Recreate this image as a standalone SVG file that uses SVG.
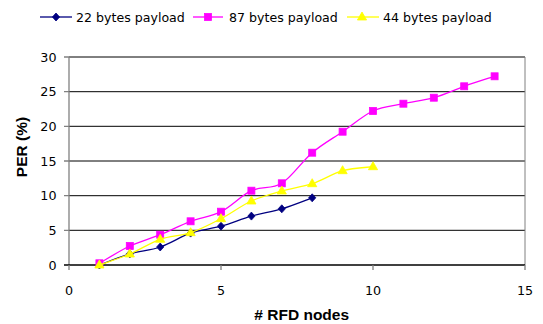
<svg xmlns="http://www.w3.org/2000/svg" width="543" height="324" viewBox="0 0 543 324">
  <style>
    .grid { stroke: #000; stroke-width: 1; }
    .axis { stroke: #808080; stroke-width: 1.3; fill: none; }
    .tick { font-family: "DejaVu Sans", Verdana, sans-serif; font-size: 12.7px; fill: #000; }
    .title { font-family: "Liberation Sans", Arial, sans-serif; font-size: 15.5px; font-weight: bold; fill: #000; }
    .legend { font-family: "DejaVu Sans", Verdana, sans-serif; font-size: 12.6px; fill: #000; }
    .s22 { stroke: #000080; stroke-width: 1.3; fill: none; }
    .s87 { stroke: #FF00FF; stroke-width: 1.3; fill: none; }
    .s44 { stroke: #FFFF00; stroke-width: 1.3; fill: none; }
  </style>
  <defs>
    <path id="diamond" d="M0,-4 L3.6,0 L0,4 L-3.6,0 Z" fill="#000080" stroke="#000080" stroke-width="0.8"/>
    <rect id="square" x="-3.5" y="-3.5" width="7" height="7" fill="#FF00FF" stroke="#FF00FF" stroke-width="0.8"/>
    <path id="triangle" d="M0,-5 L4.6,3 L-4.6,3 Z" fill="#FFFF00" stroke="#FFFF00" stroke-width="0.8"/>
  </defs>

  <rect width="543" height="324" fill="#fff"/>

  <!-- plot area: gridlines every 5 % -->
  <g id="grid">
    <line class="grid" x1="69" y1="57" x2="525" y2="57"/>
    <line class="grid" x1="69" y1="91.7" x2="525" y2="91.7"/>
    <line class="grid" x1="69" y1="126.3" x2="525" y2="126.3"/>
    <line class="grid" x1="69" y1="161" x2="525" y2="161"/>
    <line class="grid" x1="69" y1="195.7" x2="525" y2="195.7"/>
    <line class="grid" x1="69" y1="230.3" x2="525" y2="230.3"/>
    <line x1="525" y1="57" x2="525" y2="265" stroke="#808080" stroke-width="1"/>
  </g>

  <!-- axes with tick marks -->
  <g id="axes">
    <line class="axis" x1="69" y1="57" x2="69" y2="265"/>
    <line x1="64" y1="265" x2="525" y2="265" stroke="#000" stroke-width="1.3"/>
    <path class="axis" d="M64,57H69M64,91.7H69M64,126.3H69M64,161H69M64,195.7H69M64,230.3H69"/>
    <path class="axis" d="M69,265V270M221,265V270M373,265V270M525,265V270"/>
  </g>

  <g id="y-labels" class="tick" text-anchor="end">
    <text x="56.5" y="61.5">30</text>
    <text x="56.5" y="96.2">25</text>
    <text x="56.5" y="130.8">20</text>
    <text x="56.5" y="165.5">15</text>
    <text x="56.5" y="200.2">10</text>
    <text x="56.5" y="234.8">5</text>
    <text x="56.5" y="270">0</text>
  </g>
  <g id="x-labels" class="tick" text-anchor="middle">
    <text x="69" y="295">0</text>
    <text x="221" y="295">5</text>
    <text x="373" y="295">10</text>
    <text x="525" y="295">15</text>
  </g>

  <text id="x-title" class="title" x="301.7" y="320" text-anchor="middle"># RFD nodes</text>
  <text id="y-title" class="title" transform="translate(26.5,147) rotate(-90)" text-anchor="middle">PER (%)</text>

  <!-- data series (smoothed curves) -->
  <g id="series-22">
    <path class="s22" d="M99.4,265 C104.47,263.15 119.67,256.9 129.8,253.9 C139.93,250.9 150.07,250.47 160.2,247 C170.33,243.53 180.47,236.57 190.6,233.1 C200.73,229.63 210.87,229.03 221,226.2 C231.13,223.37 241.27,219 251.4,216.1 C261.53,213.2 271.67,211.85 281.8,208.8 C291.93,205.75 307.13,199.63 312.2,197.8"/>
    <use href="#diamond" x="99.4" y="265"/>
    <use href="#diamond" x="129.8" y="253.9"/>
    <use href="#diamond" x="160.2" y="247"/>
    <use href="#diamond" x="190.6" y="233.1"/>
    <use href="#diamond" x="221" y="226.2"/>
    <use href="#diamond" x="251.4" y="216.1"/>
    <use href="#diamond" x="281.8" y="208.8"/>
    <use href="#diamond" x="312.2" y="197.8"/>
  </g>
  <g id="series-87">
    <path class="s87" d="M99.4,263.3 C104.47,260.42 119.67,250.77 129.8,246 C139.93,241.23 150.07,238.82 160.2,234.7 C170.33,230.58 180.47,225.13 190.6,221.3 C200.73,217.47 210.87,216.8 221,211.7 C231.13,206.6 241.27,195.43 251.4,190.7 C261.53,185.97 271.67,189.63 281.8,183.3 C291.93,176.97 302.07,161.3 312.2,152.7 C322.33,144.1 332.47,138.65 342.6,131.7 C352.73,124.75 362.87,115.67 373,111 C383.13,106.33 393.27,105.92 403.4,103.7 C413.53,101.48 423.67,100.6 433.8,97.7 C443.93,94.8 454.07,89.87 464.2,86.3 C474.33,82.73 489.53,77.97 494.6,76.3"/>
    <use href="#square" x="99.4" y="263.3"/>
    <use href="#square" x="129.8" y="246"/>
    <use href="#square" x="160.2" y="234.7"/>
    <use href="#square" x="190.6" y="221.3"/>
    <use href="#square" x="221" y="211.7"/>
    <use href="#square" x="251.4" y="190.7"/>
    <use href="#square" x="281.8" y="183.3"/>
    <use href="#square" x="312.2" y="152.7"/>
    <use href="#square" x="342.6" y="131.7"/>
    <use href="#square" x="373" y="111"/>
    <use href="#square" x="403.4" y="103.7"/>
    <use href="#square" x="433.8" y="97.7"/>
    <use href="#square" x="464.2" y="86.3"/>
    <use href="#square" x="494.6" y="76.3"/>
  </g>
  <g id="series-44">
    <path class="s44" d="M99.4,265 C104.47,263.17 119.67,258.28 129.8,254 C139.93,249.72 150.07,242.85 160.2,239.3 C170.33,235.75 180.47,236.13 190.6,232.7 C200.73,229.27 210.87,223.98 221,218.7 C231.13,213.42 241.27,205.62 251.4,201 C261.53,196.38 271.67,193.88 281.8,191 C291.93,188.12 302.07,187.08 312.2,183.7 C322.33,180.32 332.47,173.53 342.6,170.7 C352.73,167.87 367.93,167.37 373,166.7"/>
    <use href="#triangle" x="99.4" y="265"/>
    <use href="#triangle" x="129.8" y="254"/>
    <use href="#triangle" x="160.2" y="239.3"/>
    <use href="#triangle" x="190.6" y="232.7"/>
    <use href="#triangle" x="221" y="218.7"/>
    <use href="#triangle" x="251.4" y="201"/>
    <use href="#triangle" x="281.8" y="191"/>
    <use href="#triangle" x="312.2" y="183.7"/>
    <use href="#triangle" x="342.6" y="170.7"/>
    <use href="#triangle" x="373" y="166.7"/>
  </g>

  <!-- legend -->
  <g id="legend">
    <g id="legend-22">
      <line class="s22" x1="40" y1="17" x2="72" y2="17"/>
      <use href="#diamond" x="56" y="17"/>
      <text class="legend" x="76" y="21.5">22 bytes payload</text>
    </g>
    <g id="legend-87">
      <line class="s87" x1="193" y1="17" x2="223" y2="17"/>
      <use href="#square" x="208" y="17"/>
      <text class="legend" x="229" y="21.5">87 bytes payload</text>
    </g>
    <g id="legend-44">
      <line class="s44" x1="347" y1="17" x2="379" y2="17"/>
      <use href="#triangle" x="362" y="17"/>
      <text class="legend" x="383" y="21.5">44 bytes payload</text>
    </g>
  </g>
</svg>
